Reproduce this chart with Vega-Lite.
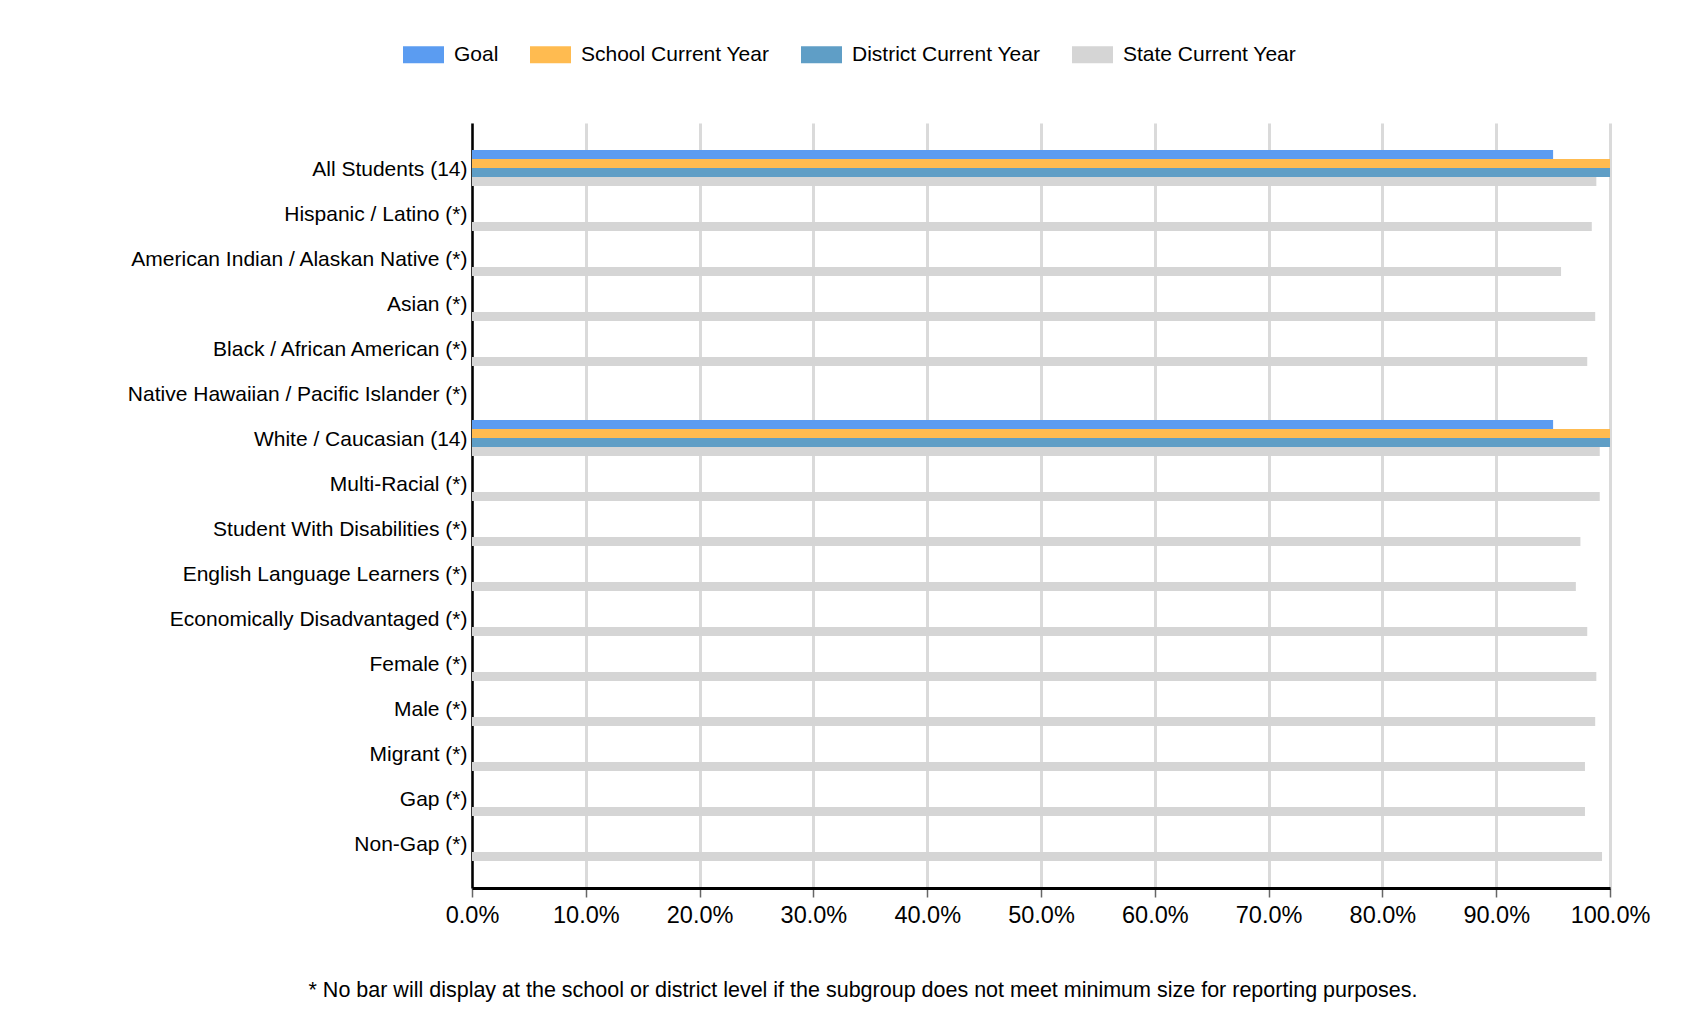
{
  "$schema": "https://vega.github.io/schema/vega-lite/v6.json",
  "autosize": {"type": "none"},
  "width": 1138,
  "height": 765,
  "padding": {"left": 472, "top": 123, "right": 92, "bottom": 142},
  "background": "white",
  "title": {
    "text": "* No bar will display at the school or district level if the subgroup does not meet minimum size for reporting purposes.",
    "orient": "bottom",
    "anchor": "middle",
    "dx": -178,
    "offset": 53,
    "font": "Liberation Sans",
    "fontSize": 21.5,
    "fontWeight": "normal",
    "color": "#000000"
  },
  "data": {
    "values": [
      {"group": "All Students (14)", "series": "Goal", "value": 0.95},
      {"group": "All Students (14)", "series": "School Current Year", "value": 1.0},
      {"group": "All Students (14)", "series": "District Current Year", "value": 1.0},
      {"group": "All Students (14)", "series": "State Current Year", "value": 0.988},
      {"group": "Hispanic / Latino (*)", "series": "State Current Year", "value": 0.984},
      {"group": "American Indian / Alaskan Native (*)", "series": "State Current Year", "value": 0.957},
      {"group": "Asian (*)", "series": "State Current Year", "value": 0.987},
      {"group": "Black / African American (*)", "series": "State Current Year", "value": 0.980},
      {"group": "White / Caucasian (14)", "series": "Goal", "value": 0.95},
      {"group": "White / Caucasian (14)", "series": "School Current Year", "value": 1.0},
      {"group": "White / Caucasian (14)", "series": "District Current Year", "value": 1.0},
      {"group": "White / Caucasian (14)", "series": "State Current Year", "value": 0.991},
      {"group": "Multi-Racial (*)", "series": "State Current Year", "value": 0.991},
      {"group": "Student With Disabilities (*)", "series": "State Current Year", "value": 0.974},
      {"group": "English Language Learners (*)", "series": "State Current Year", "value": 0.970},
      {"group": "Economically Disadvantaged (*)", "series": "State Current Year", "value": 0.980},
      {"group": "Female (*)", "series": "State Current Year", "value": 0.988},
      {"group": "Male (*)", "series": "State Current Year", "value": 0.987},
      {"group": "Migrant (*)", "series": "State Current Year", "value": 0.978},
      {"group": "Gap (*)", "series": "State Current Year", "value": 0.978},
      {"group": "Non-Gap (*)", "series": "State Current Year", "value": 0.993}
    ]
  },
  "mark": {"type": "bar"},
  "encoding": {
    "y": {
      "field": "group",
      "type": "nominal",
      "sort": null,
      "scale": {
        "domain": ["All Students (14)", "Hispanic / Latino (*)", "American Indian / Alaskan Native (*)", "Asian (*)", "Black / African American (*)", "Native Hawaiian / Pacific Islander (*)", "White / Caucasian (14)", "Multi-Racial (*)", "Student With Disabilities (*)", "English Language Learners (*)", "Economically Disadvantaged (*)", "Female (*)", "Male (*)", "Migrant (*)", "Gap (*)", "Non-Gap (*)"],
        "paddingInner": 0,
        "paddingOuter": 0.5
      },
      "axis": {
        "title": null,
        "ticks": false,
        "labelPadding": 5,
        "labelOffset": 2,
        "labelFont": "Liberation Sans",
        "labelFontSize": 21,
        "labelColor": "#000000",
        "labelLimit": 500,
        "domainColor": "#000000",
        "domainWidth": 2.5,
        "grid": false
      }
    },
    "yOffset": {
      "field": "series",
      "type": "nominal",
      "scale": {
        "domain": ["Goal", "School Current Year", "District Current Year", "State Current Year"],
        "paddingInner": 0,
        "paddingOuter": 0.5
      }
    },
    "x": {
      "field": "value",
      "type": "quantitative",
      "scale": {"domain": [0, 1], "nice": false},
      "axis": {
        "title": null,
        "format": ".1%",
        "values": [0, 0.1, 0.2, 0.3, 0.4, 0.5, 0.6, 0.7, 0.8, 0.9, 1.0],
        "labelFont": "Liberation Sans",
        "labelFontSize": 23.5,
        "labelColor": "#000000",
        "labelPadding": 6,
        "tickSize": 9,
        "tickColor": "#666666",
        "tickWidth": 1.5,
        "domainColor": "#000000",
        "domainWidth": 3,
        "grid": true,
        "gridColor": "#dadada",
        "gridWidth": 3,
        "labelFlush": false
      }
    },
    "color": {
      "field": "series",
      "type": "nominal",
      "scale": {
        "domain": ["Goal", "School Current Year", "District Current Year", "State Current Year"],
        "range": ["#5b9cf1", "#ffbb50", "#5f9ec6", "#d5d5d5"]
      },
      "legend": {
        "title": null,
        "orient": "none",
        "direction": "horizontal",
        "legendX": -69,
        "legendY": -89,
        "symbolType": "M-1,-0.41H1V0.41H-1Z",
        "symbolSize": 1681,
        "symbolStrokeWidth": 0,
        "symbolOpacity": 1,
        "labelFont": "Liberation Sans",
        "labelFontSize": 21,
        "labelColor": "#000000",
        "labelOffset": 10,
        "columnPadding": 31,
        "labelLimit": 400
      }
    }
  },
  "config": {
    "view": {"stroke": null}
  }
}
